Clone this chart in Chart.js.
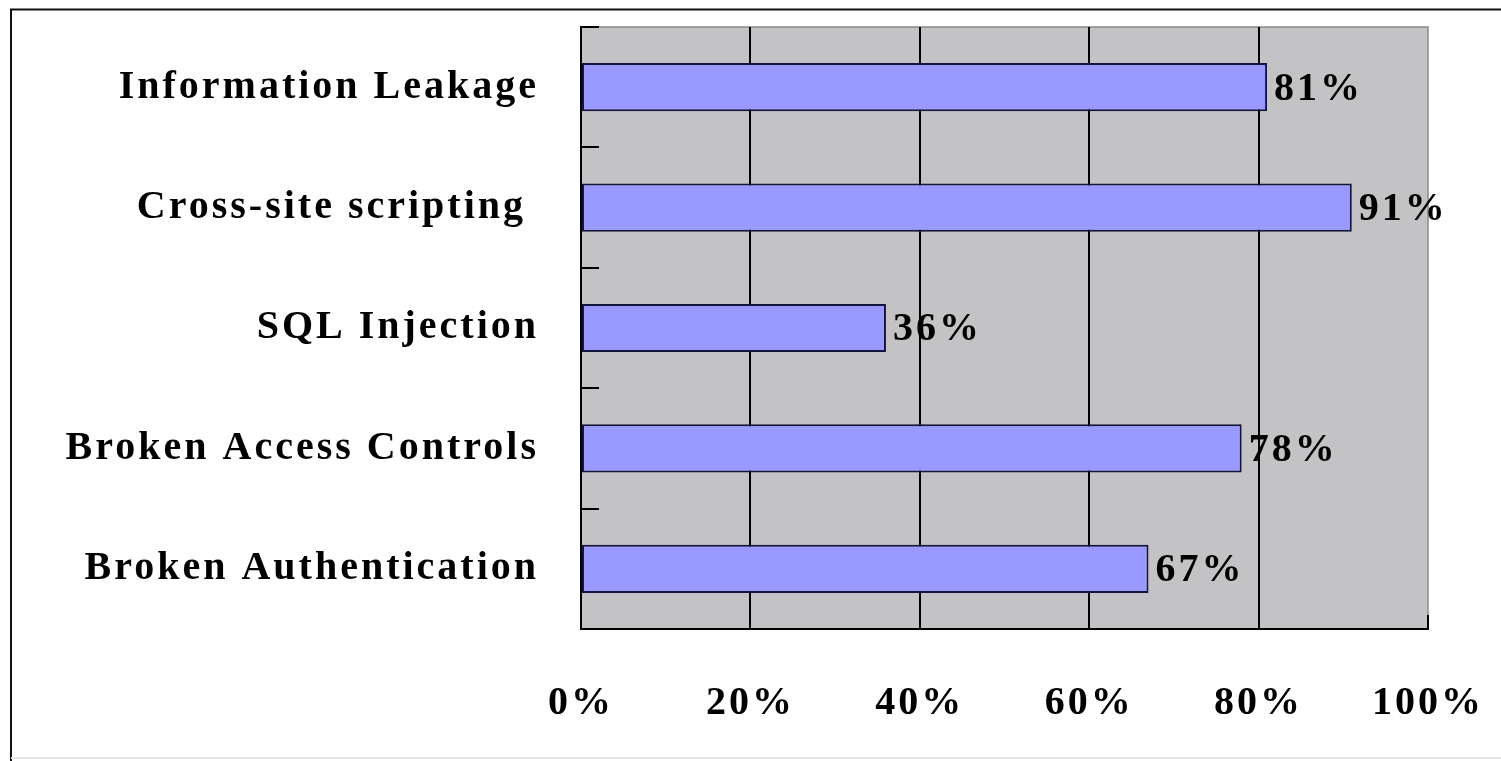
<!DOCTYPE html>
<html>
<head>
<meta charset="utf-8">
<script src="https://cdn.jsdelivr.net/npm/chart.js@4/dist/chart.umd.min.js"></script>
<style>
  html, body { margin: 0; padding: 0; background: #fff; }
  canvas { display: block; }
</style>
</head>
<body>
<canvas id="chart" width="1501" height="761"></canvas>
<script>
// Share of tested applications affected by each vulnerability class
const categories = [
  'Information Leakage',
  'Cross-site scripting ',
  'SQL Injection',
  'Broken Access Controls',
  'Broken Authentication'
];
const percentages = [81, 91, 36, 78, 67];
const axisTicks = [0, 20, 40, 60, 80, 100];

const TEXT_FONT = { family: '"Liberation Serif", "Times New Roman", serif', size: 40, weight: 'bold' };
const LETTER_SPACING = '3px';

// Canvas resets wipe letterSpacing, so reapply it before measuring and drawing
const spacing = {
  id: 'spacing',
  beforeUpdate(chart) { chart.ctx.letterSpacing = LETTER_SPACING; },
  beforeDraw(chart) { chart.ctx.letterSpacing = LETTER_SPACING; }
};

// Keep the plot box fixed: labels sit outside it without extra edge padding
function noEdgePadding(scale) {
  scale.paddingLeft = 0;
  scale.paddingRight = 0;
  scale.paddingTop = 0;
  scale.paddingBottom = 0;
}

// White page with a frame, grey plot background
const frame = {
  id: 'frame',
  beforeDraw(chart) {
    const ctx = chart.ctx;
    const a = chart.chartArea;
    ctx.save();
    ctx.fillStyle = '#fff';
    ctx.fillRect(0, 0, chart.width, chart.height);
    ctx.strokeStyle = '#111';
    ctx.lineWidth = 2;
    ctx.beginPath();
    ctx.moveTo(11, chart.height);
    ctx.lineTo(11, 9.5);
    ctx.lineTo(chart.width, 9.5);
    ctx.stroke();
    ctx.strokeStyle = '#e4e4e4';
    ctx.beginPath();
    ctx.moveTo(11, 758);
    ctx.lineTo(chart.width, 758);
    ctx.stroke();
    ctx.fillStyle = '#c3c2c4';
    ctx.fillRect(a.left, a.top, a.right - a.left, a.bottom - a.top);
    ctx.strokeStyle = '#8a8a8a';
    ctx.lineWidth = 1.5;
    ctx.beginPath();
    ctx.moveTo(a.left, a.top);
    ctx.lineTo(a.right, a.top);
    ctx.lineTo(a.right, a.bottom);
    ctx.stroke();
    ctx.restore();
  }
};

// Value labels just past the end of each bar
const valueLabels = {
  id: 'valueLabels',
  afterDatasetsDraw(chart) {
    const ctx = chart.ctx;
    const meta = chart.getDatasetMeta(0);
    ctx.save();
    ctx.letterSpacing = LETTER_SPACING;
    ctx.font = `${TEXT_FONT.weight} ${TEXT_FONT.size}px ${TEXT_FONT.family}`;
    ctx.fillStyle = '#000';
    ctx.textAlign = 'left';
    ctx.textBaseline = 'middle';
    meta.data.forEach((bar, i) => {
      ctx.fillText(percentages[i] + '%', bar.x + 7, bar.y + 2);
    });
    ctx.restore();
  }
};

new Chart(document.getElementById('chart'), {
  type: 'bar',
  data: {
    labels: categories,
    datasets: [{
      data: percentages,
      backgroundColor: '#9999ff',
      borderColor: '#14143c',
      borderWidth: 2,
      borderSkipped: false,
      categoryPercentage: 1,
      barPercentage: 0.4
    }]
  },
  options: {
    indexAxis: 'y',
    responsive: false,
    animation: false,
    events: [],
    layout: { padding: { top: 27, right: 73, left: 0, bottom: 0 } },
    plugins: { legend: { display: false }, tooltip: { enabled: false } },
    scales: {
      x: {
        min: 0,
        max: 100,
        afterBuildTicks(scale) { scale.ticks = axisTicks.map(v => ({ value: v })); },
        afterFit(scale) { scale.height = 132; noEdgePadding(scale); },
        border: { display: true, color: '#000', width: 2 },
        grid: {
          color: ctx => (ctx.tick && ctx.tick.value === 100) ? 'rgba(0,0,0,0)' : '#000',
          tickColor: '#000',
          lineWidth: 2,
          drawTicks: true,
          tickLength: -14
        },
        ticks: {
          color: '#000',
          font: TEXT_FONT,
          padding: 65,
          maxRotation: 0,
          callback: v => v + '%'
        }
      },
      y: {
        afterFit(scale) { scale.width = 581; noEdgePadding(scale); },
        border: { display: true, color: '#000', width: 2 },
        grid: {
          offset: true,
          drawOnChartArea: false,
          drawTicks: true,
          tickLength: -18,
          color: '#000',
          lineWidth: 2
        },
        ticks: {
          color: '#000',
          font: TEXT_FONT,
          padding: 60
        }
      }
    }
  },
  plugins: [spacing, frame, valueLabels]
});
</script>
</body>
</html>
